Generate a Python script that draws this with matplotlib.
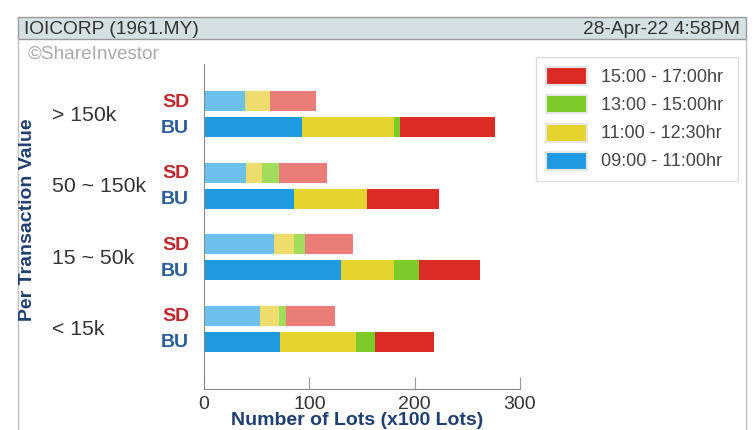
import matplotlib
matplotlib.use('Agg')
import matplotlib.pyplot as plt
from matplotlib.patches import Rectangle
import numpy as np

plt.rcParams['font.family'] = ['Liberation Sans', 'DejaVu Sans']

# data (x100 lots), top group first
groups = ['> 150k', '50 ~ 150k', '15 ~ 50k', '< 15k']
periods = ['09:00 - 11:00hr', '11:00 - 12:30hr', '13:00 - 15:00hr', '15:00 - 17:00hr']
sd_vals = [[39, 24, 0, 43],
           [40, 15, 16, 46],
           [66, 19, 11, 45],
           [53, 18, 7, 46]]
bu_vals = [[93, 87, 6, 90],
           [85, 70, 0, 68],
           [130, 50, 24, 58],
           [72, 72, 18, 56]]
xticks = [0, 100, 200, 300]

bu_cols = ['#1e9be0', '#e6d42e', '#7ccb28', '#dc2b25']
sd_cols = ['#6cc1ec', '#eedc6c', '#a2dc5c', '#eb7d78']

W, H = 754, 431
fig = plt.figure(figsize=(W / 100, H / 100), dpi=100)

def fx(px):
    return px / W

def fy(py):
    return 1 - py / H

# frame + header
fig.patches.append(Rectangle((fx(18), fy(40)), fx(728), 22 / H, transform=fig.transFigure,
                             facecolor='#d5e0e3', edgecolor='#9a9a9a', lw=1))
fig.lines.append(plt.Line2D([fx(18), fx(18)], [fy(40), 0], transform=fig.transFigure, color='#c0c0c0', lw=1))
fig.lines.append(plt.Line2D([fx(746), fx(746)], [fy(40), 0], transform=fig.transFigure, color='#c0c0c0', lw=1))
fig.text(fx(24), fy(30), 'IOICORP (1961.MY)', fontsize=13.8, color='#333333', va='center')
fig.text(fx(740), fy(30), '28-Apr-22 4:58PM', fontsize=13.8, color='#333333', va='center', ha='right')
fig.text(fx(28), fy(54), '\u00a9ShareInvestor', fontsize=13.7, color='#aaaaaa', va='center')

ax = fig.add_axes([fx(204), fy(390), fx(520 - 204), 325 / H])
off = 13 / 71.5
h = 20 / 71.5
for i in range(len(groups)):
    left = 0
    for j in range(4):
        ax.barh(i - off, sd_vals[i][j], left=left, height=h, color=sd_cols[j])
        left += sd_vals[i][j]
    left = 0
    for j in range(4):
        ax.barh(i + off, bu_vals[i][j], left=left, height=h, color=bu_cols[j])
        left += bu_vals[i][j]

ax.set_xlim(0, 300)
ax.set_ylim(3.84, -0.70)
ax.set_xticks(xticks)
ax.set_xticklabels([str(t) for t in xticks], fontsize=14, color='#333333')
ax.tick_params(axis='x', direction='in', length=9, color='#999999', pad=4)
ax.set_yticks([])
for s in ['top', 'right']:
    ax.spines[s].set_visible(False)
for s in ['left', 'bottom']:
    ax.spines[s].set_color('#888888')

for i, g in enumerate(groups):
    ax.text(-144, i, g, fontsize=15.3, color='#333333', va='center', ha='left')
    ax.text(-14, i - off, 'SD', fontsize=14, fontweight='bold', color='#c0272d', va='center', ha='right')
    ax.text(-14, i + off, 'BU', fontsize=14, fontweight='bold', color='#2a5d9c', va='center', ha='right')

fig.text(fx(28), fy(220), 'Per Transaction Value', rotation=90, fontsize=14, fontweight='bold',
         color='#1f3f73', va='center', ha='center')
fig.text(fx(357), fy(421), 'Number of Lots (x100 Lots)', fontsize=14, fontweight='bold',
         color='#1f3f73', va='center', ha='center')

# legend
fig.patches.append(Rectangle((fx(536), fy(182)), fx(738 - 536), 124 / H, transform=fig.transFigure,
                             facecolor='white', edgecolor='#dddddd', lw=1))
leg_y = [162, 134, 105, 77]
for j in range(4):
    fig.patches.append(Rectangle((fx(546), fy(leg_y[j] + 9)), fx(41), 18 / H, transform=fig.transFigure,
                                 facecolor=bu_cols[j], edgecolor='#e6e6e6', lw=1.5))
    fig.text(fx(601), fy(leg_y[j]), periods[j], fontsize=13, color='#444444', va='center')

fig.savefig('out.png', dpi=100)
